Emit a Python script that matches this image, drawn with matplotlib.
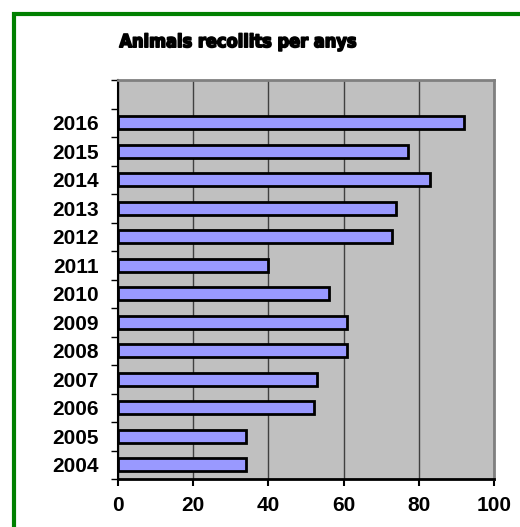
import matplotlib.pyplot as plt
from matplotlib.patches import Rectangle
import matplotlib.patheffects as pe

years = ['2004', '2005', '2006', '2007', '2008', '2009', '2010',
         '2011', '2012', '2013', '2014', '2015', '2016']
animals = [34, 34, 52, 53, 61, 61, 56, 40, 73, 74, 83, 77, 92]
x_ticks = [0, 20, 40, 60, 80, 100]

plt.rcParams['font.family'] = ['Liberation Sans', 'DejaVu Sans']

fig = plt.figure(figsize=(5.2, 5.27), dpi=100)
ax = fig.add_axes([0.227, 0.091, 0.723, 0.757])

# green frame (only left and top visible in the crop)
fig.patches.append(Rectangle((0.027, -0.1), 1.2, 1.074, transform=fig.transFigure,
                             fill=False, edgecolor='#008000', linewidth=3))

ax.set_facecolor('#C0C0C0')
pos = list(range(len(years)))
ax.barh(pos, animals, height=0.45, color='#9999FF', edgecolor='black', linewidth=2, zorder=3)

ax.set_xlim(0, 100)
ax.set_ylim(-0.5, 13.5)
ax.set_xticks(x_ticks)
ax.set_xticklabels([str(t) for t in x_ticks], fontsize=15, fontweight='bold')
ax.set_yticks(pos)
ax.set_yticklabels(years, fontsize=15, fontweight='bold')
ax.set_yticks([p - 0.5 for p in range(len(years) + 2)], minor=True)
ax.tick_params(axis='y', which='major', length=0, pad=14)
ax.tick_params(axis='y', which='minor', length=5, width=1, color='black')
ax.tick_params(axis='x', which='major', length=5, width=1.5, pad=7)

ax.xaxis.grid(True, color='#404040', linewidth=1, zorder=0)
ax.set_axisbelow(True)

for s in ['top', 'right']:
    ax.spines[s].set_color('#808080')
    ax.spines[s].set_linewidth(2)
ax.spines['left'].set_color('black')
ax.spines['left'].set_linewidth(1.5)
ax.spines['bottom'].set_color('black')
ax.spines['bottom'].set_linewidth(2)

fig.text(0.458, 0.92, 'Animals recollits per anys', ha='center', va='center',
         fontsize=13, fontweight='heavy', stretch='condensed',
         family=['DejaVu Sans'],
         path_effects=[pe.withStroke(linewidth=1.2, foreground='black')])

fig.savefig('out.png', dpi=100)
